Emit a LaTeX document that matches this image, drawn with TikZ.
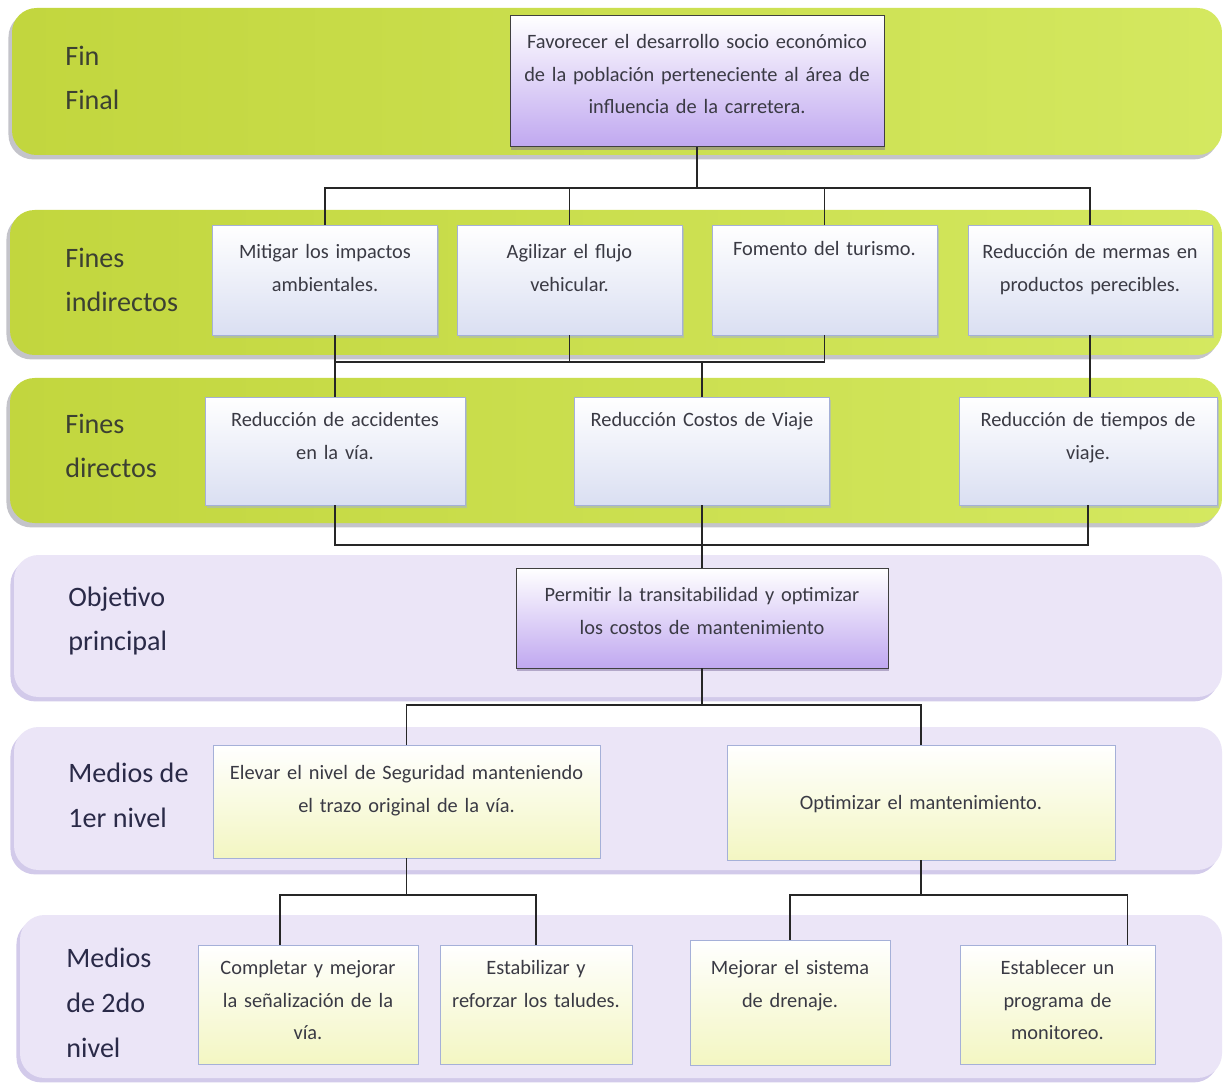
\documentclass[tikz,border=0pt]{standalone}
\usepackage{fontspec}
\setmainfont{Carlito}
\usetikzlibrary{fit,shadows}

\definecolor{bandgreenL}{RGB}{194,214,62}
\definecolor{bandgreenR}{RGB}{212,232,96}
\definecolor{greenshadow}{RGB}{138,138,150}
\definecolor{bandlila}{RGB}{235,229,247}
\definecolor{lilashadow}{RGB}{166,150,214}
\definecolor{boxblue}{RGB}{218,223,242}
\definecolor{boxedge}{RGB}{165,176,216}
\definecolor{boxlila}{RGB}{192,168,240}
\definecolor{boxyellow}{RGB}{243,246,194}
\definecolor{textgrey}{RGB}{58,58,68}
\definecolor{labelolive}{RGB}{60,64,50}
\definecolor{labelnavy}{RGB}{42,42,72}

\begin{document}
\begin{tikzpicture}[x=0.02cm, y=-0.02cm,
        band green/.style={rounded corners=14pt, inner sep=0pt, left color=bandgreenL, right color=bandgreenR,
            drop shadow={shadow xshift=-2pt, shadow yshift=-2.5pt, fill=greenshadow}},
        band lila/.style={rounded corners=14pt, inner sep=0pt, fill=bandlila,
            drop shadow={shadow xshift=-2pt, shadow yshift=-2.5pt, fill=lilashadow}},
        level label/.style={anchor=west, align=left, inner sep=0pt, font=\fontsize{16}{25.5}\selectfont},
        box node/.style={anchor=north, align=center, inner sep=0pt, top color=white, text=textgrey,
            font=\fontsize{11.6}{18.7}\selectfont},
        end box/.style={box node, bottom color=boxblue, draw=boxedge,
            drop shadow={shadow xshift=1pt, shadow yshift=-1.5pt, fill=boxedge}},
        goal box/.style={box node, bottom color=boxlila, draw=black!75,
            drop shadow={shadow xshift=0.5pt, shadow yshift=-1.8pt, fill=boxlila!65!black}},
        mean box/.style={box node, bottom color=boxyellow, draw=boxedge},
        link/.style={draw=black!85, line width=0.7pt},
    ]

    \fill[white] (0,0) rectangle (1227,1084);
    \useasboundingbox (0,0) rectangle (1227,1084);

    % bands
    \node[band green, fit={(12,8) (1222,155)}] (bandfin) {};
    \node[band green, fit={(10,210) (1222,355)}] (bandind) {};
    \node[band green, fit={(10,378) (1222,523)}] (banddir) {};
    \node[band lila, fit={(14,555) (1222,697)}] (bandobj) {};
    \node[band lila, fit={(14,727) (1222,870)}] (bandmA) {};
    \node[band lila, fit={(20,915) (1222,1078)}] (bandmB) {};

    % level labels
    \node[level label, text=labelolive] (lbfin) at (65,78) {Fin\\Final};
    \node[level label, text=labelolive] (lbind) at (65,280) {Fines\\indirectos};
    \node[level label, text=labelolive] (lbdir) at (65,446) {Fines\\directos};
    \node[level label, text=labelnavy] (lbobj) at (68,621) {Objetivo\\principal};
    \node[level label, text=labelnavy] (lbmA) at (68,795) {Medios de\\1er nivel};
    \node[level label, text=labelnavy] (lbmB) at (66,1003) {Medios\\de 2do\\nivel};

    % boxes
    \node[goal box, text width=7.48cm, text height=18.7pt, text depth=56.1pt] (fin) at (697,15)
        {Favorecer el desarrollo socio económico\\de la población perteneciente al área de\\influencia de la carretera.};

    \node[end box, text width=4.5cm, text height=18.7pt, text depth=43.7pt] (ind1) at (325,225)
        {Mitigar los impactos\\ambientales.};
    \node[end box, text width=4.5cm, text height=18.7pt, text depth=43.7pt] (ind2) at (569.5,225)
        {Agilizar el flujo\\vehicular.};
    \node[end box, text width=4.5cm, text height=17pt, text depth=45.4pt] (ind3) at (824.5,225)
        {Fomento del turismo.};
    \node[end box, text width=4.88cm, text height=18.7pt, text depth=43.7pt] (ind4) at (1090,225)
        {Reducción de mermas en\\productos perecibles.};

    \node[end box, text width=5.2cm, text height=16.4pt, text depth=44.8pt] (dir1) at (335,397)
        {Reducción de accidentes\\en la vía.};
    \node[end box, text width=5.1cm, text height=16.4pt, text depth=44.8pt] (dir2) at (702,397)
        {Reducción Costos de Viaje};
    \node[end box, text width=5.16cm, text height=16.4pt, text depth=44.8pt] (dir3) at (1088,397)
        {Reducción de tiempos de\\viaje.};

    \node[goal box, text width=7.44cm, text height=18.7pt, text depth=38pt] (obj) at (702,568)
        {Permitir la transitabilidad y optimizar\\los costos de mantenimiento};

    \node[mean box, text width=7.74cm, text height=19.3pt, text depth=44.8pt] (m1) at (406.5,745)
        {Elevar el nivel de Seguridad manteniendo\\el trazo original de la vía.};
    \node[mean box, text width=7.76cm, text height=36.3pt, text depth=28.9pt] (m2) at (921,745)
        {Optimizar el mantenimiento.};

    \node[mean box, text width=4.4cm, text height=16.4pt, text depth=51.6pt] (n1) at (308,945)
        {Completar y mejorar\\la señalización de la\\vía.};
    \node[mean box, text width=3.84cm, text height=16.4pt, text depth=51.6pt] (n2) at (536,945)
        {Estabilizar y\\reforzar los taludes.};
    \node[mean box, text width=4cm, text height=19.3pt, text depth=51.6pt] (n3) at (790,940)
        {Mejorar el sistema\\de drenaje.};
    \node[mean box, text width=3.9cm, text height=16.4pt, text depth=51.6pt] (n4) at (1057.5,945)
        {Establecer un\\programa de\\monitoreo.};

    % fin -> fines indirectos
    \coordinate (j1) at (700,188);
    \draw[link] (fin.south) -- (fin.south |- j1);
    \draw[link] (ind1.north) -- (ind1.north |- j1) -- (ind4.north |- j1) -- (ind4.north);
    \draw[link] (ind2.north) -- (ind2.north |- j1);
    \draw[link] (ind3.north) -- (ind3.north |- j1);

    % fines indirectos -> fines directos
    \coordinate (j2) at (700,362);
    \draw[link] (dir1.north |- ind1.south) -- (dir1.north);
    \draw[link] (ind2.south) -- (ind2.south |- j2);
    \draw[link] (ind3.south) -- (ind3.south |- j2) -- (dir1.north |- j2);
    \draw[link] (dir2.north |- j2) -- (dir2.north);
    \draw[link] (ind4.south) -- (ind4.south |- dir3.north);

    % fines directos -> objetivo
    \coordinate (j3) at (700,545);
    \draw[link] (dir1.south) -- (dir1.south |- j3) -- (dir3.south |- j3) -- (dir3.south);
    \draw[link] (dir2.south) -- (obj.north);

    % objetivo -> medios de 1er nivel
    \coordinate (j4) at (700,705);
    \draw[link] (obj.south) -- (obj.south |- j4);
    \draw[link] (m1.north) -- (m1.north |- j4) -- (m2.north |- j4) -- (m2.north);

    % medios de 1er nivel -> medios de 2do nivel
    \coordinate (j5) at (408,895);
    \coordinate (j6) at (918,895);
    \coordinate (t1) at ([xshift=-0.56cm]n1.north);
    \coordinate (t4) at ([xshift=1.4cm]n4.north);
    \draw[link] (m1.south) -- (m1.south |- j5);
    \draw[link] (t1) -- (t1 |- j5) -- (n2.north |- j5) -- (n2.north);
    \draw[link] (m2.south) -- (m2.south |- j6);
    \draw[link] (n3.north) -- (n3.north |- j6) -- (t4 |- j6) -- (t4);
\end{tikzpicture}
\end{document}
